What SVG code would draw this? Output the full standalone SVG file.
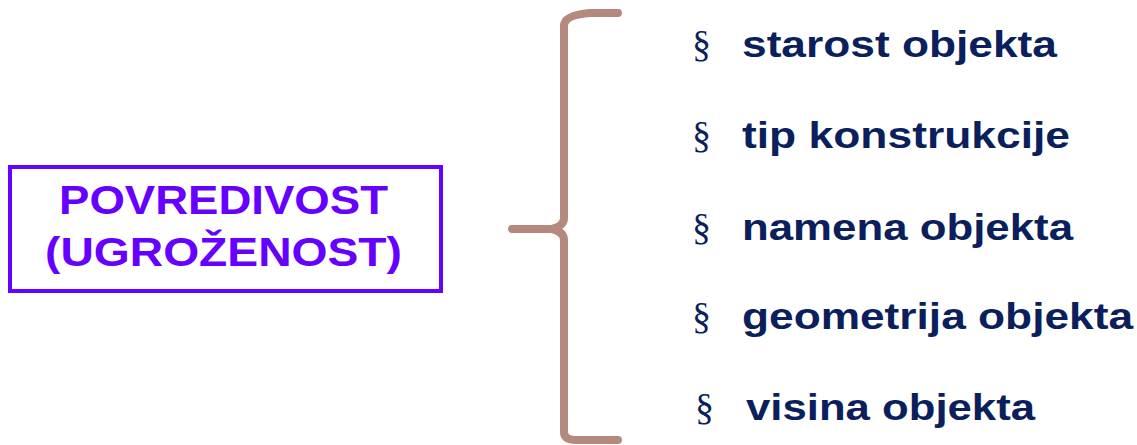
<svg xmlns="http://www.w3.org/2000/svg" width="1137" height="445" viewBox="0 0 1137 445">
  <style>
    .box { fill: #ffffff; stroke: #6600ff; stroke-width: 4; }
    .title { font-family: "Liberation Sans", Arial, sans-serif; font-weight: bold; font-size: 40px; fill: #6600ff; }
    .brace { fill: none; stroke: #b58a7e; stroke-width: 8; stroke-linecap: round; stroke-linejoin: round; }
    .bullet { font-family: "Liberation Serif", "Times New Roman", serif; font-size: 38px; fill: #0b1f5c; }
    .item { font-family: "Liberation Sans", Arial, sans-serif; font-weight: bold; font-size: 37px; fill: #0b1f5c; }
  </style>
  <rect width="1137" height="445" fill="#ffffff"/>

  <g id="node-povredivost">
    <rect class="box" x="10" y="167" width="431" height="124"/>
    <text class="title" x="59" y="214" textLength="329" lengthAdjust="spacingAndGlyphs">POVREDIVOST</text>
    <text class="title" x="45" y="266" textLength="357" lengthAdjust="spacingAndGlyphs">(UGROŽENOST)</text>
  </g>

  <g id="connectors">
    <path class="brace" d="M618,13 L590,13 Q564,15 564,26 L564,218 Q564,226 552,229 L512,229 M552,229 Q564,232 564,240 L564,432 Q564,440 576,440 L618,440"/>
  </g>

  <g id="node-starost">
    <text class="bullet" x="692" y="57">§</text>
    <text class="item" x="742" y="57" textLength="315" lengthAdjust="spacingAndGlyphs">starost objekta</text>
  </g>
  <g id="node-tip">
    <text class="bullet" x="692" y="148">§</text>
    <text class="item" x="742" y="148" textLength="328" lengthAdjust="spacingAndGlyphs">tip konstrukcije</text>
  </g>
  <g id="node-namena">
    <text class="bullet" x="692" y="240">§</text>
    <text class="item" x="742" y="240" textLength="331" lengthAdjust="spacingAndGlyphs">namena objekta</text>
  </g>
  <g id="node-geometrija">
    <text class="bullet" x="692" y="329">§</text>
    <text class="item" x="742" y="329" textLength="391" lengthAdjust="spacingAndGlyphs">geometrija objekta</text>
  </g>
  <g id="node-visina">
    <text class="bullet" x="695" y="420">§</text>
    <text class="item" x="746" y="420" textLength="289" lengthAdjust="spacingAndGlyphs">visina objekta</text>
  </g>
</svg>
